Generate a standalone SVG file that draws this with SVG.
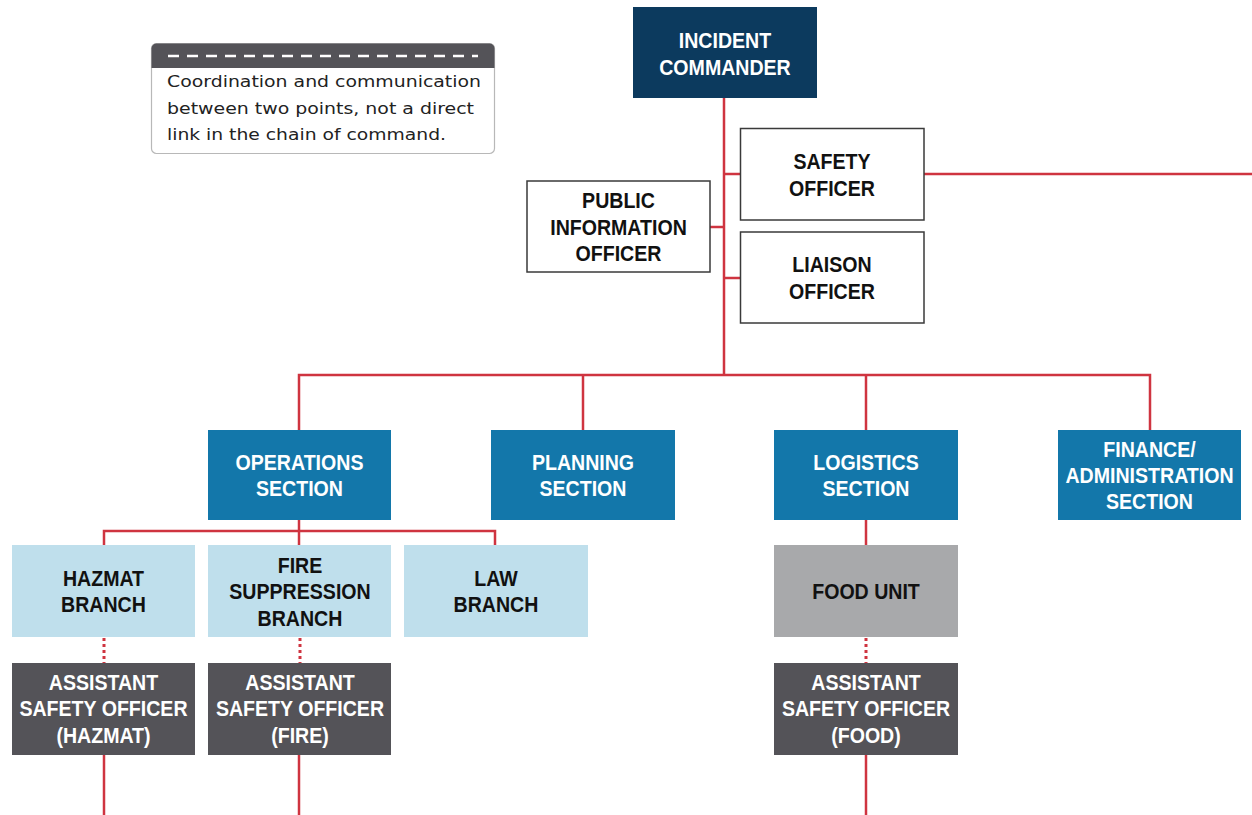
<svg xmlns="http://www.w3.org/2000/svg" width="1252" height="815" viewBox="0 0 1252 815">
<style>
.bg{fill:#ffffff}
.t{font-family:"Liberation Sans",Arial,sans-serif;font-weight:bold;font-size:22.5px;text-anchor:middle;transform-box:fill-box;transform-origin:center;transform:scaleX(0.87)}
.w{fill:#ffffff}
.k{fill:#111111}
.cmd{fill:#0c3a5e}
.off{fill:#ffffff;stroke:#3a3a3a;stroke-width:1.5}
.sec{fill:#1377aa}
.br{fill:#bfdfec}
.unit{fill:#a8a9ab}
.aso{fill:#545358}
.ln{stroke:#cf3440;stroke-width:2.5;fill:none}
.dot{stroke:#cf3440;stroke-width:3;fill:none;stroke-dasharray:3 3}
.lg{font-family:"DejaVu Sans",Verdana,sans-serif;font-size:16.5px;fill:#222222}
</style>
<rect class="bg" width="1252" height="815"/>

<g id="legend">
<rect x="151.5" y="43.5" width="343" height="110" rx="5" fill="#ffffff" stroke="#b8b8b8" stroke-width="1.2"/>
<path d="M151.5,68 V48.5 a5,5 0 0 1 5,-5 H489.5 a5,5 0 0 1 5,5 V68 Z" fill="#545358"/>
<line x1="168" y1="56" x2="478" y2="56" stroke="#ffffff" stroke-width="2.5" stroke-dasharray="11 8"/>
<text class="lg" x="167" y="87" textLength="314" lengthAdjust="spacingAndGlyphs">Coordination and communication</text>
<text class="lg" x="167" y="114" textLength="307" lengthAdjust="spacingAndGlyphs">between two points, not a direct</text>
<text class="lg" x="167" y="140" textLength="279" lengthAdjust="spacingAndGlyphs">link in the chain of command.</text>
</g>

<g id="connectors">
<line class="ln" x1="724" y1="98" x2="724" y2="376"/>
<line class="ln" x1="724" y1="174" x2="740" y2="174"/>
<line class="ln" x1="710" y1="227" x2="724" y2="227"/>
<line class="ln" x1="724" y1="278" x2="740" y2="278"/>
<line class="ln" x1="924" y1="174" x2="1252" y2="174"/>
<polyline class="ln" points="299,430 299,375 1150,375 1150,430"/>
<line class="ln" x1="583" y1="375" x2="583" y2="430"/>
<line class="ln" x1="866" y1="375" x2="866" y2="430"/>
<line class="ln" x1="299" y1="520" x2="299" y2="545"/>
<polyline class="ln" points="104,545 104,531 495,531 495,545"/>
<line class="ln" x1="866" y1="520" x2="866" y2="545"/>
<line class="dot" x1="104" y1="638" x2="104" y2="663"/>
<line class="dot" x1="300" y1="638" x2="300" y2="663"/>
<line class="dot" x1="866" y1="638" x2="866" y2="663"/>
<line class="ln" x1="104" y1="755" x2="104" y2="815"/>
<line class="ln" x1="299" y1="755" x2="299" y2="815"/>
<line class="ln" x1="866" y1="755" x2="866" y2="815"/>
</g>

<g id="incident-commander">
<rect class="cmd" x="633" y="7" width="184" height="91"/>
<text class="t w" x="725" y="48">INCIDENT</text>
<text class="t w" x="725" y="75">COMMANDER</text>
</g>

<g id="safety-officer">
<rect class="off" x="740.5" y="128.5" width="183.5" height="91.5"/>
<text class="t k" x="832" y="169">SAFETY</text>
<text class="t k" x="832" y="196">OFFICER</text>
</g>

<g id="public-information-officer">
<rect class="off" x="527" y="181" width="183" height="91"/>
<text class="t k" x="618.5" y="208">PUBLIC</text>
<text class="t k" x="618.5" y="235">INFORMATION</text>
<text class="t k" x="618.5" y="261">OFFICER</text>
</g>

<g id="liaison-officer">
<rect class="off" x="740.5" y="232" width="183.5" height="91"/>
<text class="t k" x="832" y="272">LIAISON</text>
<text class="t k" x="832" y="299">OFFICER</text>
</g>

<g id="operations-section">
<rect class="sec" x="208" y="430" width="183" height="90"/>
<text class="t w" x="299.5" y="470">OPERATIONS</text>
<text class="t w" x="299.5" y="496">SECTION</text>
</g>

<g id="planning-section">
<rect class="sec" x="491" y="430" width="184" height="90"/>
<text class="t w" x="583" y="470">PLANNING</text>
<text class="t w" x="583" y="496">SECTION</text>
</g>

<g id="logistics-section">
<rect class="sec" x="774" y="430" width="184" height="90"/>
<text class="t w" x="866" y="470">LOGISTICS</text>
<text class="t w" x="866" y="496">SECTION</text>
</g>

<g id="finance-administration-section">
<rect class="sec" x="1058" y="430" width="183" height="90"/>
<text class="t w" x="1149.5" y="457">FINANCE/</text>
<text class="t w" x="1149.5" y="483">ADMINISTRATION</text>
<text class="t w" x="1149.5" y="509">SECTION</text>
</g>

<g id="hazmat-branch">
<rect class="br" x="12" y="545" width="183" height="92"/>
<text class="t k" x="103.5" y="586">HAZMAT</text>
<text class="t k" x="103.5" y="612">BRANCH</text>
</g>

<g id="fire-suppression-branch">
<rect class="br" x="208" y="545" width="183" height="92"/>
<text class="t k" x="300" y="573">FIRE</text>
<text class="t k" x="300" y="599">SUPPRESSION</text>
<text class="t k" x="300" y="626">BRANCH</text>
</g>

<g id="law-branch">
<rect class="br" x="404" y="545" width="184" height="92"/>
<text class="t k" x="496" y="586">LAW</text>
<text class="t k" x="496" y="612">BRANCH</text>
</g>

<g id="food-unit">
<rect class="unit" x="774" y="545" width="184" height="92"/>
<text class="t k" x="866" y="599">FOOD UNIT</text>
</g>

<g id="aso-hazmat">
<rect class="aso" x="12" y="663" width="183" height="92"/>
<text class="t w" x="103.5" y="690">ASSISTANT</text>
<text class="t w" x="103.5" y="716">SAFETY OFFICER</text>
<text class="t w" x="103.5" y="743">(HAZMAT)</text>
</g>

<g id="aso-fire">
<rect class="aso" x="208" y="663" width="183" height="92"/>
<text class="t w" x="300" y="690">ASSISTANT</text>
<text class="t w" x="300" y="716">SAFETY OFFICER</text>
<text class="t w" x="300" y="743">(FIRE)</text>
</g>

<g id="aso-food">
<rect class="aso" x="774" y="663" width="184" height="92"/>
<text class="t w" x="866" y="690">ASSISTANT</text>
<text class="t w" x="866" y="716">SAFETY OFFICER</text>
<text class="t w" x="866" y="743">(FOOD)</text>
</g>
</svg>
